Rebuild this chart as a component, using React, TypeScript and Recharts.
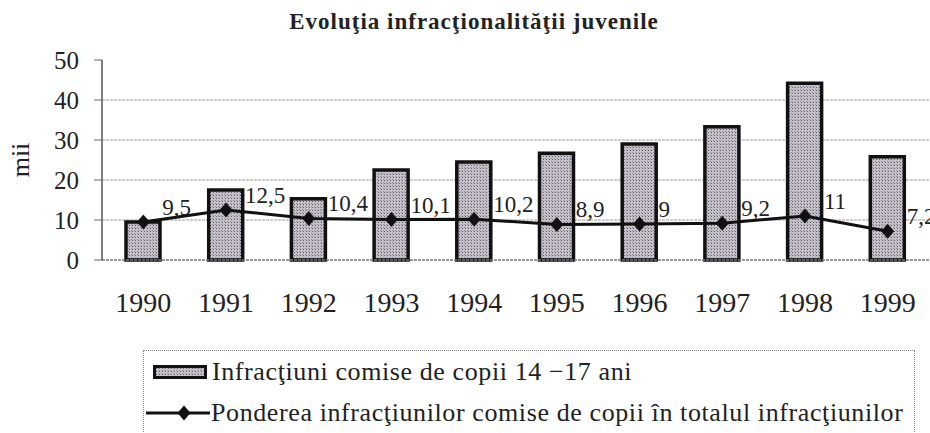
import React from "react";
import {
  ComposedChart,
  Bar,
  Line,
  XAxis,
  YAxis,
  CartesianGrid,
  LabelList,
} from "recharts";

const years = ["1990", "1991", "1992", "1993", "1994", "1995", "1996", "1997", "1998", "1999"];
// infracţiuni comise de copii 14-17 ani (mii)
const juvenileOffences = [9.5, 17.5, 15.3, 22.5, 24.5, 26.7, 29, 33.3, 44.2, 25.8];
// ponderea în totalul infracţiunilor (%)
const shareOfTotal = [9.5, 12.5, 10.4, 10.1, 10.2, 8.9, 9, 9.2, 11, 7.2];
const yTicks = [0, 10, 20, 30, 40, 50];
const gridValues = [10, 20, 30, 40];
const edgeTicks = [1, 2, 3, 4, 5, 6, 7, 8, 9];

const data = years.map((year, i) => ({
  year,
  i,
  count: juvenileOffences[i],
  share: shareOfTotal[i],
}));

const FONT = '"Liberation Serif", "DejaVu Serif", serif';
const BAR_FILL = "url(#stipple)";

const Diamond = (props: any) => {
  const { cx, cy } = props;
  if (cx == null || cy == null) return null;
  return (
    <path
      d={`M${cx},${cy - 7.5} L${cx + 6.5},${cy} L${cx},${cy + 7.5} L${cx - 6.5},${cy} Z`}
      fill="#111"
    />
  );
};

const ShareLabel = (props: any) => {
  const { x, y, value } = props;
  return (
    <text x={x + 19} y={y - 7} textAnchor="start" fontFamily={FONT} fontSize={23} fill="#222">
      {String(value).replace(".", ",")}
    </text>
  );
};

// stippled grey fill of the bars
const PatternDefs = () => (
  <svg width={0} height={0} style={{ position: "absolute" }}>
    <defs>
      <pattern id="stipple" width={3} height={3} patternUnits="userSpaceOnUse">
        <rect width={3} height={3} fill="#c6c1cb" />
        <rect width={1} height={1} fill="#5e5a64" />
        <rect x={2} y={2} width={1} height={1} fill="#8e8a94" />
      </pattern>
    </defs>
  </svg>
);

const LegendBox = () => (
  <div
    style={{
      position: "absolute",
      left: 143,
      top: 350,
      width: 772,
      height: 100,
      border: "1px dotted #888",
      fontFamily: FONT,
      fontSize: 26,
      letterSpacing: 0.6,
      color: "#222",
      boxSizing: "border-box",
      lineHeight: "30px",
    }}
  >
    <div style={{ position: "absolute", left: 9, top: 6, display: "flex", alignItems: "center" }}>
      <svg width={54} height={14} style={{ marginRight: 5 }}>
        <rect x={1.5} y={1.5} width={51} height={11} fill={BAR_FILL} stroke="#111" strokeWidth={3} />
      </svg>
      <span>Infracţiuni comise de copii 14 −17 ani</span>
    </div>
    <div style={{ position: "absolute", left: 2, top: 47, display: "flex", alignItems: "center" }}>
      <svg width={64} height={18} style={{ marginRight: 1 }}>
        <line x1={0} y1={9} x2={64} y2={9} stroke="#111" strokeWidth={3} />
        <path d="M38,1.5 L44.5,9 L38,16.5 L31.5,9 Z" fill="#111" />
      </svg>
      <span>Ponderea infracţiunilor comise de copii în totalul infracţiunilor</span>
    </div>
  </div>
);

export default function App() {
  return (
    <div style={{ position: "absolute", left: 0, top: 0, width: 930, height: 433, background: "#fff", overflow: "hidden" }}>
      <PatternDefs />
      <div
        style={{
          position: "absolute",
          top: 9,
          left: 0,
          width: 948,
          textAlign: "center",
          fontFamily: FONT,
          fontWeight: "bold",
          fontSize: 23,
          letterSpacing: 1,
          color: "#222",
        }}
      >
        Evoluţia infracţionalităţii juvenile
      </div>
      <ComposedChart
        width={930}
        height={433}
        data={data}
        margin={{ top: 60, right: 1, bottom: 113, left: 0 }}
      >
        <CartesianGrid
          vertical={false}
          horizontalValues={gridValues}
          stroke="#9a9a9a"
          strokeDasharray="3 1"
        />
        <XAxis
          xAxisId="edges"
          type="number"
          dataKey="i"
          domain={[0, 10]}
          allowDataOverflow
          ticks={edgeTicks}
          height={0}
          axisLine={false}
          tick={false}
          tickSize={10}
          tickLine={{ stroke: "#555", strokeWidth: 1.2 }}
        />
        <XAxis
          dataKey="year"
          height={60}
          axisLine={{ stroke: "#777", strokeDasharray: "3 1", strokeWidth: 1.5 }}
          tickLine={false}
          tickSize={0}
          tickMargin={32}
          tick={{ fontFamily: FONT, fontSize: 28, fill: "#222" }}
        />
        <YAxis
          domain={[0, 50]}
          ticks={yTicks}
          width={102}
          axisLine={{ stroke: "#555", strokeWidth: 1.5 }}
          tickLine={{ stroke: "#666" }}
          tickSize={8}
          tickMargin={15}
          tick={{ fontFamily: FONT, fontSize: 25, fill: "#222" }}
          label={{
            value: "mii",
            angle: -90,
            position: "insideLeft",
            offset: 20,
            style: { fontFamily: FONT, fontSize: 26, fill: "#222", textAnchor: "middle" },
          }}
        />
        <Bar
          dataKey="count"
          fill={BAR_FILL}
          stroke="#111"
          strokeWidth={3.5}
          barSize={34}
          isAnimationActive={false}
        />
        <Line
          dataKey="share"
          stroke="#111"
          strokeWidth={3}
          dot={<Diamond />}
          activeDot={false}
          isAnimationActive={false}
        >
          <LabelList dataKey="share" content={<ShareLabel />} />
        </Line>
      </ComposedChart>
      <LegendBox />
    </div>
  );
}
